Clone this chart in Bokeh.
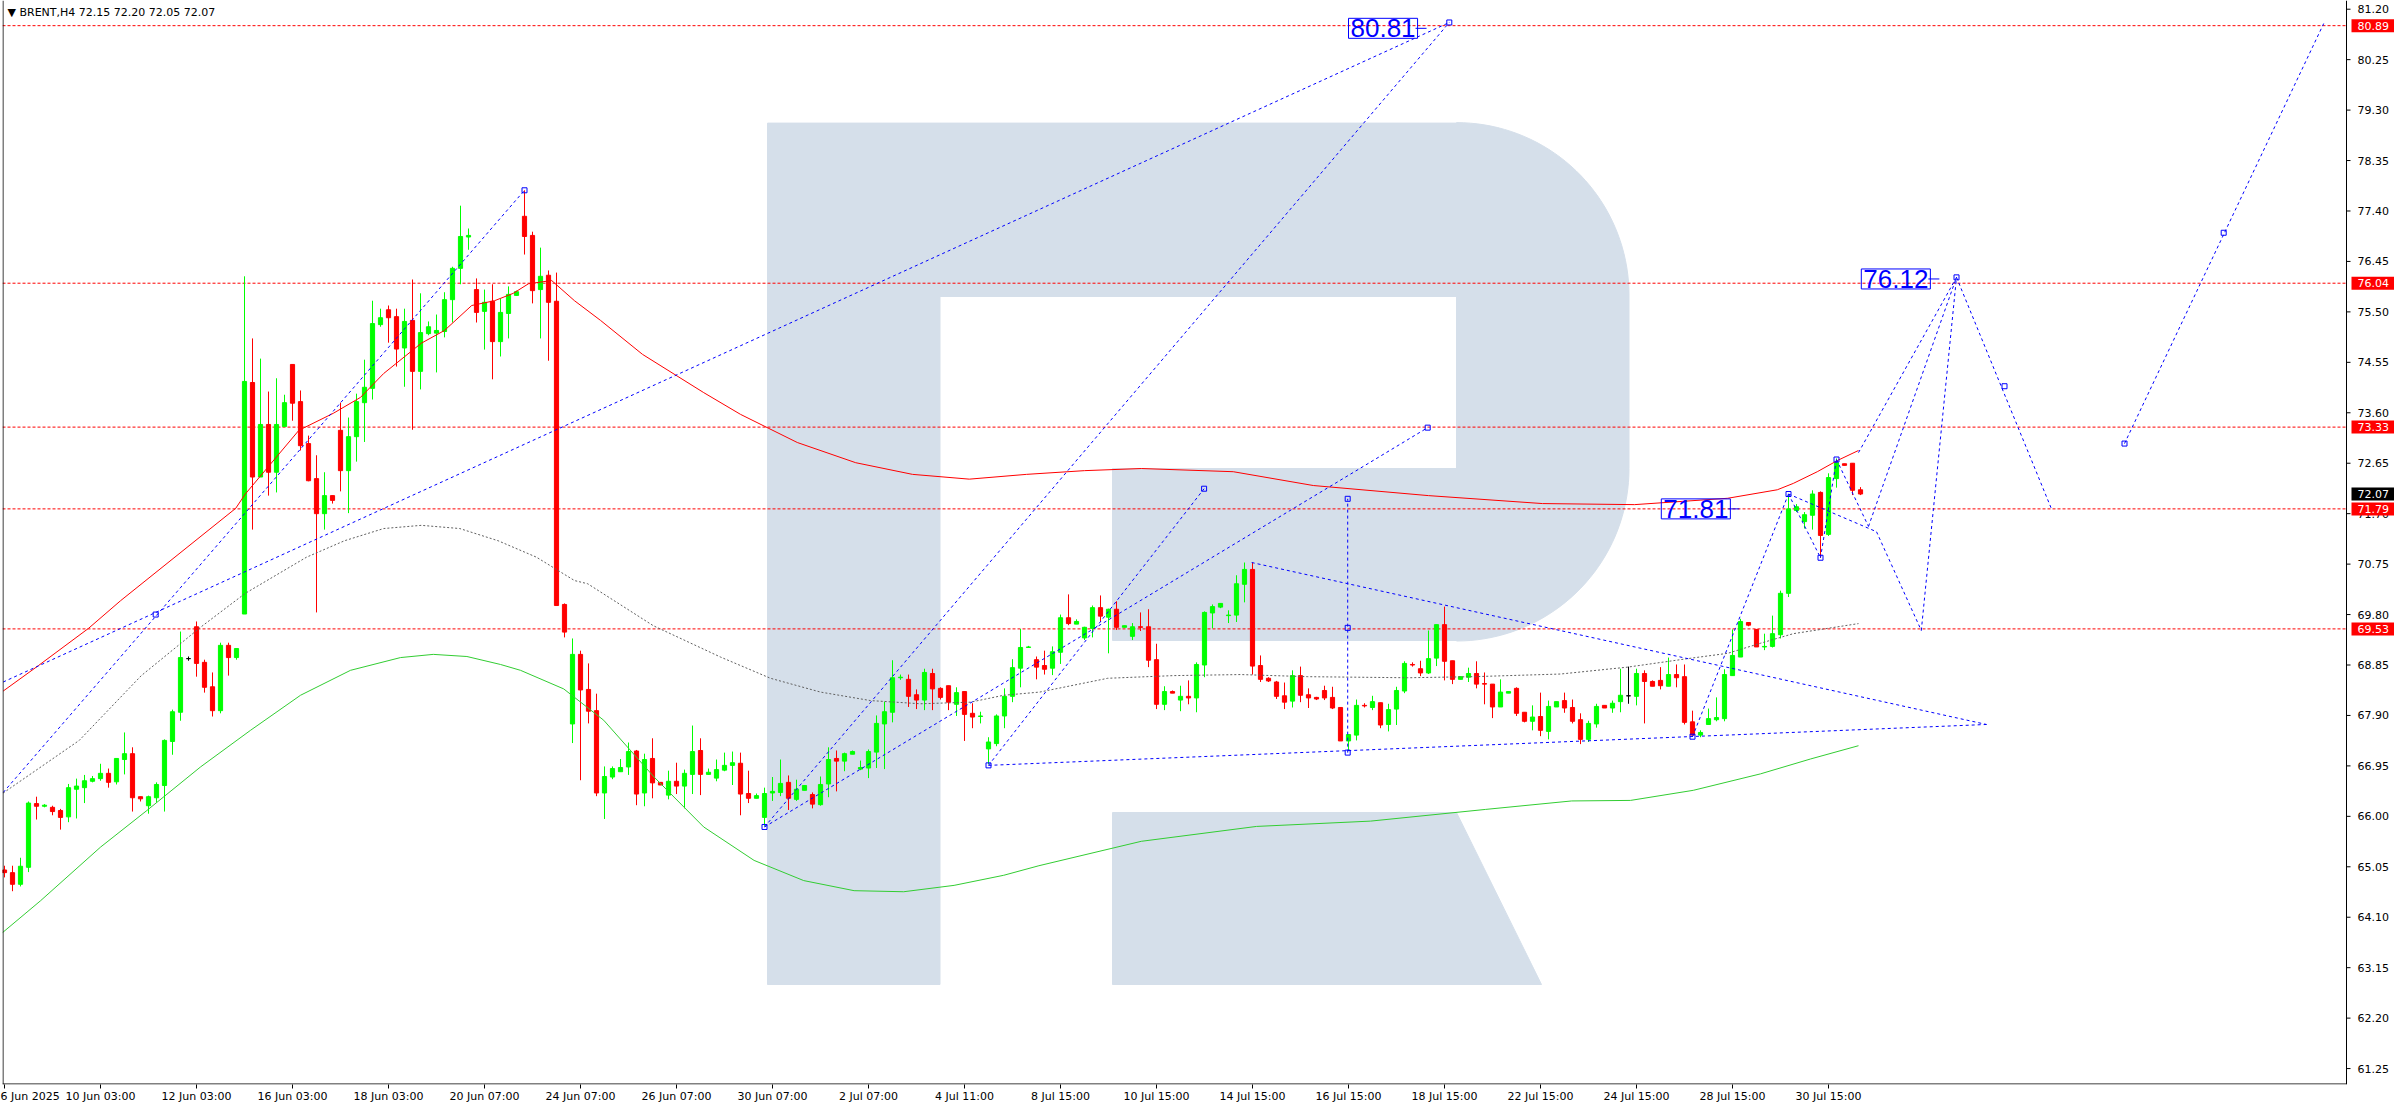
import numpy as np
from bokeh.plotting import figure
from bokeh.models import (Range1d, FixedTicker, LinearAxis, Label, ColumnDataSource)
from bokeh.embed import file_html
from bokeh.resources import INLINE
from bokeh.core.properties import value

# ---------------- data: BRENT H4 candles (bar index 0 = 6 Jun 2025) ----------------
opens = [64.99,64.94,64.72,65.04,66.24,66.19,66.17,66.11,65.99,66.51,
         66.54,66.66,66.71,66.81,66.65,67.07,67.18,66.37,66.20,66.35,
         66.58,67.41,67.96,68.97,69.57,68.90,68.44,67.99,69.22,68.99,
         69.81,74.17,72.39,73.38,72.48,73.34,74.51,73.81,73.02,72.36,
         71.70,72.04,73.27,72.51,73.15,73.79,74.06,75.26,75.54,75.41,
         74.82,75.34,74.38,75.09,75.10,75.13,75.73,76.32,76.91,75.92,
         75.51,75.70,74.94,75.47,75.81,77.30,76.94,75.92,76.19,75.70,
         69.99,67.74,69.05,68.39,67.99,66.44,66.74,66.84,66.93,67.23,
         66.44,67.09,66.64,66.40,66.66,66.57,66.79,67.24,66.79,66.72,
         66.87,66.96,67.00,66.43,66.34,65.98,66.44,66.45,66.64,66.32,
         66.49,66.41,66.22,66.61,67.09,67.04,67.17,66.89,66.91,67.21,
         67.74,67.96,68.61,68.58,68.29,68.19,68.69,68.41,68.46,68.11,
         68.35,67.94,67.88,67.27,67.37,67.89,68.26,68.79,69.18,68.95,
         68.84,68.79,69.09,69.74,69.62,69.36,69.54,69.93,69.75,69.90,
         69.56,69.39,69.57,69.57,68.95,68.11,68.35,68.19,68.26,68.23,
         68.85,69.83,69.94,69.78,69.79,70.37,70.65,68.84,68.60,68.53,
         68.27,68.17,68.65,68.29,68.24,68.37,68.24,68.05,67.42,67.53,
         68.09,68.05,68.14,67.73,68.02,68.36,68.86,68.78,68.70,68.98,
         69.61,68.93,68.58,68.62,68.69,68.50,68.49,68.06,68.32,68.41,
         67.96,67.79,67.88,67.60,68.06,68.18,68.05,67.82,67.45,67.74,
         68.09,68.04,68.16,68.27,68.26,68.69,68.54,68.56,68.45,68.67,
         68.63,67.78,67.53,67.73,67.82,67.84,68.65,69.00,69.65,69.52,
         69.19,69.20,69.42,70.20,71.76,71.55,71.67,72.10,71.31,72.36,
         72.64,72.65,72.15]
highs = [65.07,65.07,65.22,66.28,66.37,66.23,66.20,66.14,66.61,66.71,
         66.78,66.76,66.99,66.90,67.09,67.58,67.30,66.37,66.39,66.64,
         67.45,68.01,69.48,69.01,69.67,68.95,68.71,69.27,69.27,69.16,
         76.17,75.00,74.62,74.00,74.25,73.94,74.51,74.02,73.17,72.80,
         72.48,72.04,73.79,73.51,73.96,74.60,75.71,75.56,75.62,75.56,
         75.56,76.11,75.85,75.32,75.45,75.87,76.35,77.50,77.07,76.13,
         75.92,76.02,75.75,75.98,75.90,77.79,77.01,76.71,76.28,76.24,
         70.01,69.35,69.12,68.88,68.31,66.94,66.94,67.08,67.39,67.25,
         67.18,67.47,66.64,66.86,67.01,66.88,67.71,67.47,66.90,67.07,
         67.20,67.22,67.20,66.86,66.43,66.54,66.74,67.07,66.77,66.69,
         66.58,66.45,66.75,67.30,67.24,67.20,67.24,67.05,67.26,67.90,
         68.16,68.94,68.67,68.67,68.39,68.78,68.78,68.43,68.46,68.43,
         68.35,68.13,67.97,67.49,67.92,68.41,68.96,69.53,69.21,69.01,
         69.12,69.20,69.80,70.18,69.71,69.57,69.97,70.16,69.91,70.05,
         69.59,69.64,69.84,69.90,69.25,68.45,68.37,68.46,68.56,68.90,
         69.86,69.99,70.01,69.88,70.54,70.78,70.78,69.03,68.62,68.55,
         68.52,68.75,68.82,68.41,68.25,68.46,68.44,68.05,67.54,68.20,
         68.13,68.27,68.14,68.12,68.44,68.92,68.90,68.93,69.50,69.61,
         69.95,68.93,68.63,68.80,68.92,68.71,68.49,68.58,68.35,68.43,
         67.96,68.09,68.33,68.18,68.16,68.33,68.20,67.94,67.80,68.12,
         68.09,68.18,68.78,68.82,68.78,68.75,68.56,68.81,68.99,68.86,
         68.86,67.99,67.62,68.03,68.24,68.77,69.52,69.72,69.65,69.52,
         69.44,69.78,70.25,72.05,71.88,71.73,72.14,72.12,72.46,72.74,
         72.64,72.65,72.20]
lows = [64.85,64.59,64.68,64.95,65.94,66.17,66.02,65.75,65.89,65.96,
        66.25,66.64,66.67,66.54,66.60,66.79,66.09,66.28,66.05,66.26,
        66.09,67.16,67.80,68.93,68.63,68.33,67.88,67.94,68.65,68.95,
        69.81,71.40,72.39,72.04,72.10,73.34,73.45,72.89,72.31,69.84,
        71.40,71.89,72.12,71.71,72.68,73.05,73.85,75.22,74.92,74.47,
        74.09,73.28,74.04,75.06,74.36,75.02,75.30,76.02,76.67,75.30,
        74.79,74.23,74.66,75.00,75.80,76.58,75.66,75.00,74.58,69.97,
        69.37,67.38,66.68,67.75,66.38,65.95,66.70,66.84,66.78,66.21,
        66.19,66.34,66.59,66.32,66.42,66.15,66.42,66.40,66.78,66.66,
        66.85,66.59,66.02,66.25,66.34,65.82,66.29,66.38,66.12,66.29,
        66.49,66.15,66.20,66.36,66.47,66.85,67.17,66.87,66.72,66.91,
        66.89,67.77,68.57,68.06,68.02,68.00,68.00,68.20,68.00,67.89,
        67.42,67.66,67.75,66.98,67.32,67.66,68.15,68.43,69.17,68.58,
        68.67,68.66,68.87,69.60,69.62,69.32,69.37,69.66,69.07,69.51,
        69.56,69.32,69.49,68.81,68.02,68.00,68.32,67.98,68.11,67.96,
        68.62,69.54,69.92,69.64,69.66,70.03,68.67,68.53,68.53,68.21,
        68.02,68.05,68.15,68.04,68.19,68.19,68.02,67.42,67.23,67.43,
        68.05,68.00,67.66,67.60,67.72,68.32,68.82,68.64,68.68,68.83,
        68.56,68.49,68.58,68.53,68.41,68.11,67.85,68.06,68.32,67.89,
        67.77,67.62,67.51,67.45,68.06,67.95,67.75,67.36,67.40,67.67,
        68.04,67.95,67.96,68.12,68.09,67.75,68.45,68.39,68.45,68.43,
        67.73,67.53,67.49,67.73,67.79,67.79,68.65,69.00,69.58,69.19,
        69.13,69.18,69.35,70.13,71.73,71.42,71.40,70.87,71.28,72.19,
        72.61,72.05,72.05]
closes = [64.94,64.72,65.06,66.25,66.19,66.21,66.09,65.98,66.54,66.57,
          66.67,66.71,66.81,66.64,67.09,67.18,66.35,66.33,66.37,66.60,
          67.43,67.97,68.99,68.97,68.88,68.43,67.99,69.22,68.99,69.16,
          74.19,72.39,73.38,72.48,73.38,73.79,73.78,72.98,72.32,71.70,
          72.04,71.95,72.51,73.15,73.81,74.08,75.28,75.39,75.39,74.80,
          75.32,74.38,75.11,75.22,75.15,75.73,76.32,76.92,76.94,75.49,
          75.68,74.94,75.49,75.83,75.88,76.92,75.90,76.17,75.68,69.97,
          69.47,69.05,68.38,67.98,66.44,66.75,66.90,66.92,67.22,66.42,
          67.07,66.63,66.59,66.66,66.57,66.81,67.22,66.79,66.83,66.88,
          66.96,67.01,66.42,66.34,66.39,66.43,66.47,66.62,66.34,66.51,
          66.58,66.23,66.60,67.07,67.04,67.18,67.22,66.92,67.22,67.75,
          67.97,68.61,68.62,68.26,68.19,68.71,68.40,68.24,68.15,68.33,
          67.92,67.87,67.89,67.40,67.89,68.26,68.80,69.18,69.19,68.81,
          68.77,69.10,69.74,69.63,69.67,69.56,69.93,69.77,69.90,69.56,
          69.59,69.57,69.56,68.94,68.11,68.35,68.32,68.26,68.23,68.86,
          69.84,69.95,70.01,69.79,70.38,70.65,68.83,68.58,68.55,68.26,
          68.15,68.65,68.28,68.23,68.21,68.23,68.04,67.42,67.54,68.09,
          68.08,68.16,67.72,68.01,68.37,68.88,68.85,68.70,68.97,69.61,
          68.92,68.58,68.63,68.69,68.49,68.49,68.06,68.34,68.35,67.94,
          67.79,67.87,67.62,68.07,68.16,68.04,67.79,67.45,67.75,68.07,
          68.04,68.13,68.28,68.27,68.69,68.54,68.45,68.46,68.67,68.61,
          67.77,67.53,67.58,67.84,67.86,68.67,69.03,69.67,69.60,69.19,
          69.20,69.44,70.20,71.79,71.83,71.68,72.07,71.29,72.38,72.66,
          72.61,72.14,72.07]

# moving averages, read at sample bars
red_ma_x = [-0.16,4.25,10.5,14.5,28.9,30.1,36.8,41.1,44.5,47.4,52.1,55,58.4,61.25,63.6,65.5,68.4,
            71.25,74.5,79.75,87.4,92,99.1,106.4,113.5,120.6,127.75,135,142.1,153.6,163.6,178,
            192.25,203.75,215.4,221.6,223.6,226.6,229.1,231.75]
red_ma_y = [68.36,68.84,69.54,70.06,71.80,72.07,73.27,73.59,73.89,74.34,74.91,75.15,75.62,75.71,75.85,76.03,76.09,
            75.71,75.34,74.70,73.98,73.57,73.04,72.66,72.44,72.35,72.44,72.51,72.55,72.49,72.23,72.04,
            71.89,71.87,71.99,72.15,72.27,72.49,72.70,72.89]
gray_ma_x = [-0.16,9.34,17.1,24.5,30.1,37.75,42.5,47.4,52.1,56.9,61.7,66.5,71.25,72.9,81.1,89.5,95.75,
             102,108.25,114.5,120.75,124.9,129.4,137.9,146.1,154.5,162.9,175.4,183.6,194.5,202.9,
             210.4,215.4,219.5,223.6,227.9,231.75]
gray_ma_y = [66.44,67.43,68.65,69.56,70.20,70.88,71.19,71.42,71.48,71.42,71.19,70.88,70.44,70.38,69.59,69.00,68.60,
             68.34,68.18,68.12,68.15,68.28,68.34,68.60,68.65,68.67,68.63,68.61,68.63,68.68,68.81,
             68.97,69.07,69.26,69.44,69.54,69.63]
green_ma_x = [-0.25,4.5,12,17.8,24.5,30.75,37,43.25,49.5,53.6,57.8,62,64.5,69.9,74.9,81.2,87.4,93.7,
              99.9,106.2,112.4,118.7,124.9,129.3,142.1,156.5,170.75,185.1,195.9,203.25,211.1,219.5,
              225.75,231.75]
green_ma_y = [63.81,64.41,65.42,66.11,66.93,67.62,68.28,68.75,68.99,69.05,69.01,68.86,68.75,68.40,67.81,66.74,65.80,65.17,
              64.79,64.60,64.58,64.70,64.89,65.07,65.53,65.81,65.91,66.13,66.29,66.30,66.49,66.80,
              67.08,67.33]

# horizontal levels and current price
level_prices = [80.89, 76.04, 73.33, 71.79, 69.53]
last_price = 72.07

# analyst trend / forecast lines (bar, price) -> (bar, price)
tl_x0 = [-0.16,-0.16,95,123,95,123,155.9,167.9,211,223,227,223,229,233,231.75,234,239.6,244,265]
tl_y0 = [66.45,68.53,65.80,66.96,65.80,66.96,70.78,67.20,67.50,72.07,70.87,72.07,72.72,71.46,72.85,71.36,69.50,76.15,73.02]
tl_x1 = [65,180.6,180.6,149.95,177.9,247.75,247.75,167.9,223,227,229,234,233,244,244,239.6,244,255.9,289.9]
tl_y1 = [77.79,80.95,80.95,72.17,73.32,67.73,67.73,71.98,72.07,70.87,72.72,71.36,71.46,76.15,76.15,69.50,76.15,71.78,80.93]
anchor_x = [18.9,65,95,123,180.6,149.95,177.9,167.9,167.9,167.9,244,277.4,265,250,211,223,227,229]
anchor_y = [69.80,77.79,65.80,66.96,80.95,72.17,73.32,71.98,69.55,67.20,76.15,76.99,73.02,74.10,67.50,72.07,70.87,72.72]

# target price boxes
box_texts = ["80.81", "76.12", "71.81"]
box_bar = [168.0, 232.1, 207.1]
box_price = [80.84, 76.12, 71.79]

# axes
tick_bars = [0,12,24,36,48,60,72,84,96,108,120,132,144,156,168,180,192,204,216,228]
tick_labels = ["6 Jun 2025","10 Jun 03:00","12 Jun 03:00","16 Jun 03:00","18 Jun 03:00",
               "20 Jun 07:00","24 Jun 07:00","26 Jun 07:00","30 Jun 07:00","2 Jul 07:00",
               "4 Jul 11:00","8 Jul 15:00","10 Jul 15:00","14 Jul 15:00","16 Jul 15:00",
               "18 Jul 15:00","22 Jul 15:00","24 Jul 15:00","28 Jul 15:00","30 Jul 15:00"]
price_ticks = [61.25,62.20,63.15,64.10,65.05,66.00,66.95,67.90,68.85,69.80,70.75,
               71.70,72.65,73.60,74.55,75.50,76.45,77.40,78.35,79.30,80.25,81.20]

# ---------------- layout ----------------
W, H = 2394, 1108
BL, BR, BT, BB = 2, 0, 0, 24
X0 = -0.25          # left frame edge (bar units)
XA = 292.75         # price-scale line (bar units)
AXIS_PX = 2346      # canvas px of the price-scale line
ppb = (AXIS_PX - BL) / (XA - X0)
X1 = XA + (W - BR - AXIS_PX) / ppb
Y0, Y1 = 60.95, 81.364
ppy = (H - BT - BB) / (Y1 - Y0)

# reference-pixel helpers for the decorative watermark
def bx(px):
    return (px - 4.0) / 8.0

def py(px):
    return 76.04 - (px - 282.7) / 53.1

AXFONT = "DejaVu Sans"
GREEN, RED, BLUE = "#00ff00", "#ff0000", "#0000ff"

p = figure(width=W, height=H, output_backend="svg", toolbar_location=None,
           x_range=Range1d(X0, X1), y_range=Range1d(Y0, Y1),
           x_axis_location=None, y_axis_location=None,
           min_border_left=BL, min_border_right=BR, min_border_top=BT, min_border_bottom=BB)
p.outline_line_color = None
p.background_fill_color = "white"
p.border_fill_color = "white"
p.grid.visible = False

# watermark "R"
LOGO = "#d5dfea"
rects = [(767, 939.5, 122.6, 984), (939.5, 1456, 122.6, 296), (1112, 1456, 468, 640)]
lx, ly = [], []
for (a, b, c, d) in rects:
    lx.append([bx(a), bx(b), bx(b), bx(a)])
    ly.append([py(c), py(c), py(d), py(d)])
r = 172.5
ang1 = np.linspace(-np.pi / 2, 0, 40)
ang2 = np.linspace(0, np.pi / 2, 40)
px_pts = [1456] + list(1456 + r * np.cos(ang1)) + list(1456 + r * np.cos(ang2))
py_pts = [122.1] + list(294.6 + r * np.sin(ang1)) + list(468 + r * np.sin(ang2))
lx.append([bx(v) for v in px_pts])
ly.append([py(v) for v in py_pts])
leg = [(1112, 812), (1456, 812), (1541, 984), (1112, 984)]
lx.append([bx(a) for a, _ in leg])
ly.append([py(b) for _, b in leg])
p.patches(xs=lx, ys=ly, fill_color=LOGO, line_color=LOGO, line_width=1)

# red horizontal levels (up to the price scale)
p.segment(x0=[X0] * len(level_prices), y0=level_prices, x1=[XA] * len(level_prices), y1=level_prices,
          line_color=RED, line_dash="3 2", line_width=1)

# candles
n = len(opens)
xs = list(range(n))
cols = [GREEN if c > o else (RED if c < o else "#000000") for o, c in zip(opens, closes)]
src = ColumnDataSource(dict(x=xs, o=opens, h=highs, l=lows, c=closes,
                            top=[max(o, c) for o, c in zip(opens, closes)],
                            bot=[min(o, c) for o, c in zip(opens, closes)], col=cols))
p.segment(x0="x", y0="l", x1="x", y1="h", line_color="col", line_width=1, source=src)
p.vbar(x="x", width=0.52, top="top", bottom="bot", fill_color="col", line_color="col",
       line_width=1, source=src)

# moving averages
p.line(green_ma_x, green_ma_y, line_color="#32cd32", line_width=1)
p.line(gray_ma_x, gray_ma_y, line_color="#606060", line_width=1, line_dash="2 2")
p.line(red_ma_x, red_ma_y, line_color=RED, line_width=1)

# analyst lines
p.segment(x0=tl_x0, y0=tl_y0, x1=tl_x1, y1=tl_y1, line_color=BLUE, line_width=1, line_dash="3 3")
p.scatter(anchor_x, anchor_y, marker="square", size=5, fill_color=None, line_color=BLUE, line_width=1)

# target boxes
for t, bxv, bpv in zip(box_texts, box_bar, box_price):
    p.add_layout(Label(x=bxv, y=bpv, text=t, text_font="Liberation Sans", text_font_size="26px",
                       text_color=BLUE, text_baseline="middle", text_align="left",
                       border_line_color=BLUE, border_line_width=1, padding=(2, 1)))
    tick_x0 = bxv + (len(t) * 0.556 * 26 - 0.278 * 26 + 2) / ppb
    p.segment(x0=[tick_x0], y0=[bpv], x1=[tick_x0 + 11 / ppb], y1=[bpv], line_color=BLUE, line_width=1)

# frame borders: left edge, bottom edge, price-scale line
half_x = 0.5 / ppb
half_y = 0.5 / ppy
p.segment(x0=[X0 + half_x, X0, XA], y0=[Y0, Y0 + half_y, Y0], x1=[X0 + half_x, XA, XA], y1=[Y1, Y0 + half_y, Y1],
          line_color="black", line_width=1)

# price scale (right): ticks, labels, level tags
nt = len(price_ticks)
p.segment(x0=[XA] * nt, y0=price_ticks, x1=[XA + 4 / ppb] * nt, y1=price_ticks, line_color="black", line_width=1)
p.text(x=[XA + 11 / ppb] * nt, y=price_ticks, text=[f"{t:.2f}" for t in price_ticks],
       text_font=value(AXFONT), text_font_size=value("11px"), text_color="black",
       text_baseline="middle", text_align="left")
tag_vals = level_prices + [last_price]
tag_cols = [RED] * len(level_prices) + ["#000000"]
p.rect(x=[XA + 27.5 / ppb] * len(tag_vals), y=tag_vals, width=45 / ppb, height=13 / ppy,
       fill_color=tag_cols, line_color=None)
p.text(x=[XA + 11 / ppb] * len(tag_vals), y=tag_vals, text=[f"{v:.2f}" for v in tag_vals],
       text_font=value(AXFONT), text_font_size=value("11px"), text_color="white",
       text_baseline="middle", text_align="left")

# time axis (below)
xax = LinearAxis(ticker=FixedTicker(ticks=tick_bars),
                 major_label_overrides={b: s for b, s in zip(tick_bars, tick_labels)},
                 major_tick_in=0, major_tick_out=4, minor_tick_line_color=None,
                 axis_line_color=None, major_tick_line_color="black",
                 major_label_text_font=AXFONT, major_label_text_font_size="11px",
                 major_label_text_color="black", major_label_standoff=1,
                 major_label_text_align="left")
p.add_layout(xax, "below")

# title
p.add_layout(Label(x=bx(7), y=Y1 - 12 / ppy, text="\u25bc BRENT,H4  72.15 72.20 72.05 72.07",
                   text_font=AXFONT, text_font_size="11px", text_color="black",
                   text_baseline="middle", text_align="left"))

open("out.html", "w").write(file_html(p, INLINE))
